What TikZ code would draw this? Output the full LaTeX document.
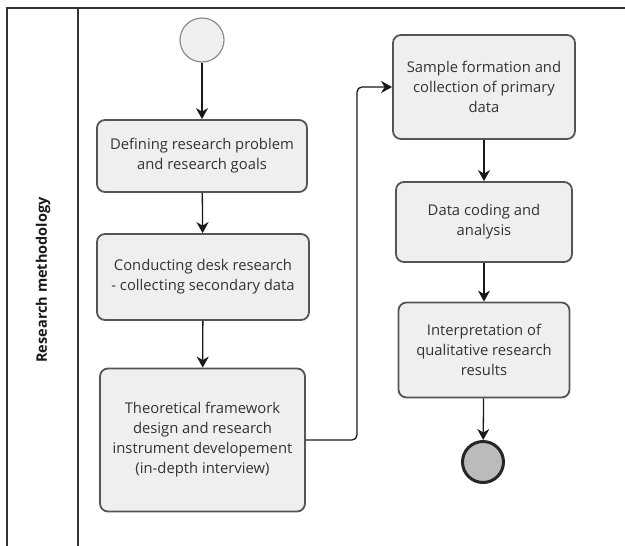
\documentclass[tikz,border=0pt]{standalone}
\usepackage{fontspec}
\setmainfont{Open Sans}
\usetikzlibrary{arrows.meta}
\definecolor{boxfill}{HTML}{EFEFEF}
\definecolor{boxline}{HTML}{555555}
\definecolor{txt}{HTML}{333333}
\definecolor{endfill}{HTML}{BBBBBB}
\definecolor{frame}{HTML}{333333}
\tikzset{
  stepbox/.style={draw=boxline, line width=1.8pt, fill=boxfill, rounded corners=8pt,
    align=center, inner sep=0pt, text=txt, font=\fontsize{14.8}{20}\selectfont},
  flow/.style={draw=black!90, line width=1.3pt, -{Stealth[length=11pt,width=12pt,inset=3.5pt]}},
  lanefr/.style={draw=frame, line width=1.3pt}
}
\begin{document}
\begin{tikzpicture}[x=1pt,y=-1pt]
\useasboundingbox (0,0) rectangle (625,546);
% pool frame
\coordinate (tl) at (7,8);
\coordinate (tr) at (625,8);
\coordinate (bl) at (7,546);
\coordinate (dt) at (78,8);
\coordinate (db) at (78,546);
\draw[lanefr] (bl) -- (tl) -- (tr);
\draw[lanefr] (dt) -- (db);
\node[rotate=90, font=\bfseries\fontsize{14.5}{17}\selectfont, text=black!90] (lane) at (43,280) {Research methodology};
% events
\node[circle, draw=black!45, line width=1.2pt, fill=boxfill, minimum size=44pt, inner sep=0pt] (start) at (202,40) {};
\node[circle, draw=black!85, line width=3pt, fill=endfill, minimum size=41pt, inner sep=0pt] (end) at (483,462) {};
% tasks
\node[stepbox, minimum width=210pt, minimum height=72pt] (b1) at (202,156) {Defining research problem\\and research goals};
\node[stepbox, minimum width=212pt, minimum height=86pt] (b2) at (203,277) {Conducting desk research\\- collecting secondary data};
\node[stepbox, minimum width=205pt, minimum height=143pt] (b3) at (202.5,440) {Theoretical framework\\design and research\\instrument developement\\(in-depth interview)};
\node[stepbox, minimum width=182pt, minimum height=104pt] (b4) at (484,87) {Sample formation and\\collection of primary\\data};
\node[stepbox, minimum width=176pt, minimum height=80pt] (b5) at (484,222) {Data coding and\\analysis};
\node[stepbox, minimum width=171pt, minimum height=95pt] (b6) at (484,350) {Interpretation of\\qualitative research\\results};
% flows
\draw[flow] (start) -- (b1);
\draw[flow] (b1) -- (b2);
\draw[flow] (b2) -- (b3);
\coordinate (bend) at (357,440);
\draw[flow, rounded corners=5pt] (b3.east) -- (bend) |- (b4.west);
\draw[flow] (b4) -- (b5);
\draw[flow] (b5) -- (b6);
\draw[flow] (b6) -- (end);
\end{tikzpicture}
\end{document}
